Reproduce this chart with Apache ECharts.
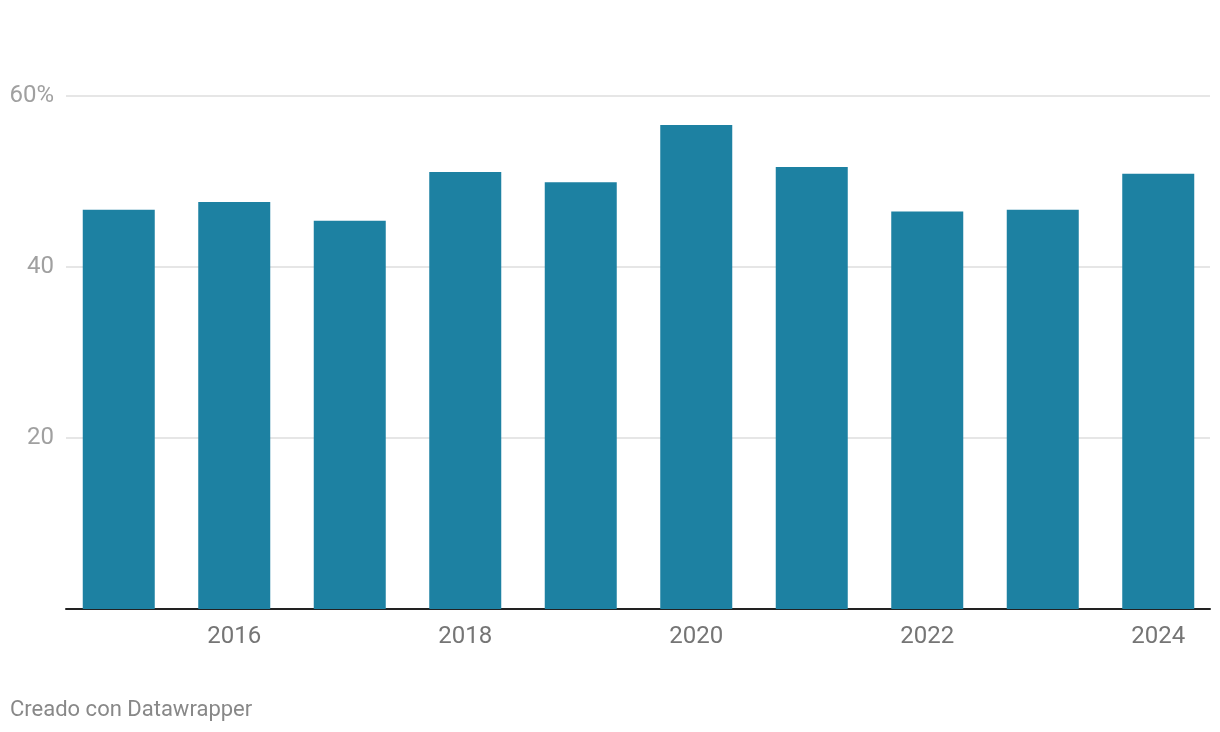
<!DOCTYPE html>
<html>
<head>
<meta charset="utf-8">
<script src="https://cdn.jsdelivr.net/npm/echarts@6/dist/echarts.min.js"></script>
<style>
html,body{margin:0;padding:0;background:#fff;}
#c{width:1220px;height:732px;}
#foot{position:absolute;left:10px;top:696px;font-family:Roboto,sans-serif;font-size:22px;color:#888;}
</style>
</head>
<body>
<div id="c"></div>
<div id="foot">Creado con Datawrapper</div>
<script>
const years = ['2015','2016','2017','2018','2019','2020','2021','2022','2023','2024'];
const values = [46.7, 47.6, 45.4, 51.1, 49.9, 56.6, 51.7, 46.5, 46.7, 50.9];
const yTicks = [0, 20, 40, 60];

const chart = echarts.init(document.getElementById('c'));
chart.setOption({
  animation: false,
  grid: [
    {left: 61, right: 4, top: 96, bottom: 123},
    {left: 66, right: 10, top: 96, bottom: 123}
  ],
  xAxis: [{
    type: 'category',
    gridIndex: 0,
    data: years,
    axisTick: {show: false},
    axisLine: {show: false},
    axisLabel: {
      interval: (i) => i % 2 === 1,
      margin: 16,
      fontFamily: 'Roboto',
      fontSize: 24,
      color: '#757575'
    }
  }, {
    type: 'value',
    gridIndex: 1,
    min: 0, max: 1,
    axisTick: {show: false},
    axisLabel: {show: false},
    splitLine: {show: false},
    axisLine: {show: true, lineStyle: {color: '#222', width: 2}}
  }],
  yAxis: [{
    type: 'value',
    gridIndex: 0,
    min: yTicks[0],
    max: yTicks[yTicks.length - 1],
    interval: 20,
    show: false,
    splitLine: {show: false}
  }, {
    type: 'value',
    gridIndex: 1,
    min: yTicks[0],
    max: yTicks[yTicks.length - 1],
    interval: 20,
    axisLine: {show: false},
    axisTick: {show: false},
    splitLine: {lineStyle: {color: '#e6e6e6', width: 2}},
    axisLabel: {
      margin: 12,
      fontFamily: 'Roboto',
      fontSize: 24,
      color: '#a0a0a0',
      padding: [3, 0, 0, 0],
      formatter: (v) => v === 0 ? '' : (v === 60 ? v + '%' : String(v))
    }
  }],
  series: [{
    type: 'bar',
    xAxisIndex: 0,
    yAxisIndex: 0,
    data: values,
    barWidth: 72,
    z: 3,
    itemStyle: {color: '#1d81a2'}
  }]
});
</script>
</body>
</html>
